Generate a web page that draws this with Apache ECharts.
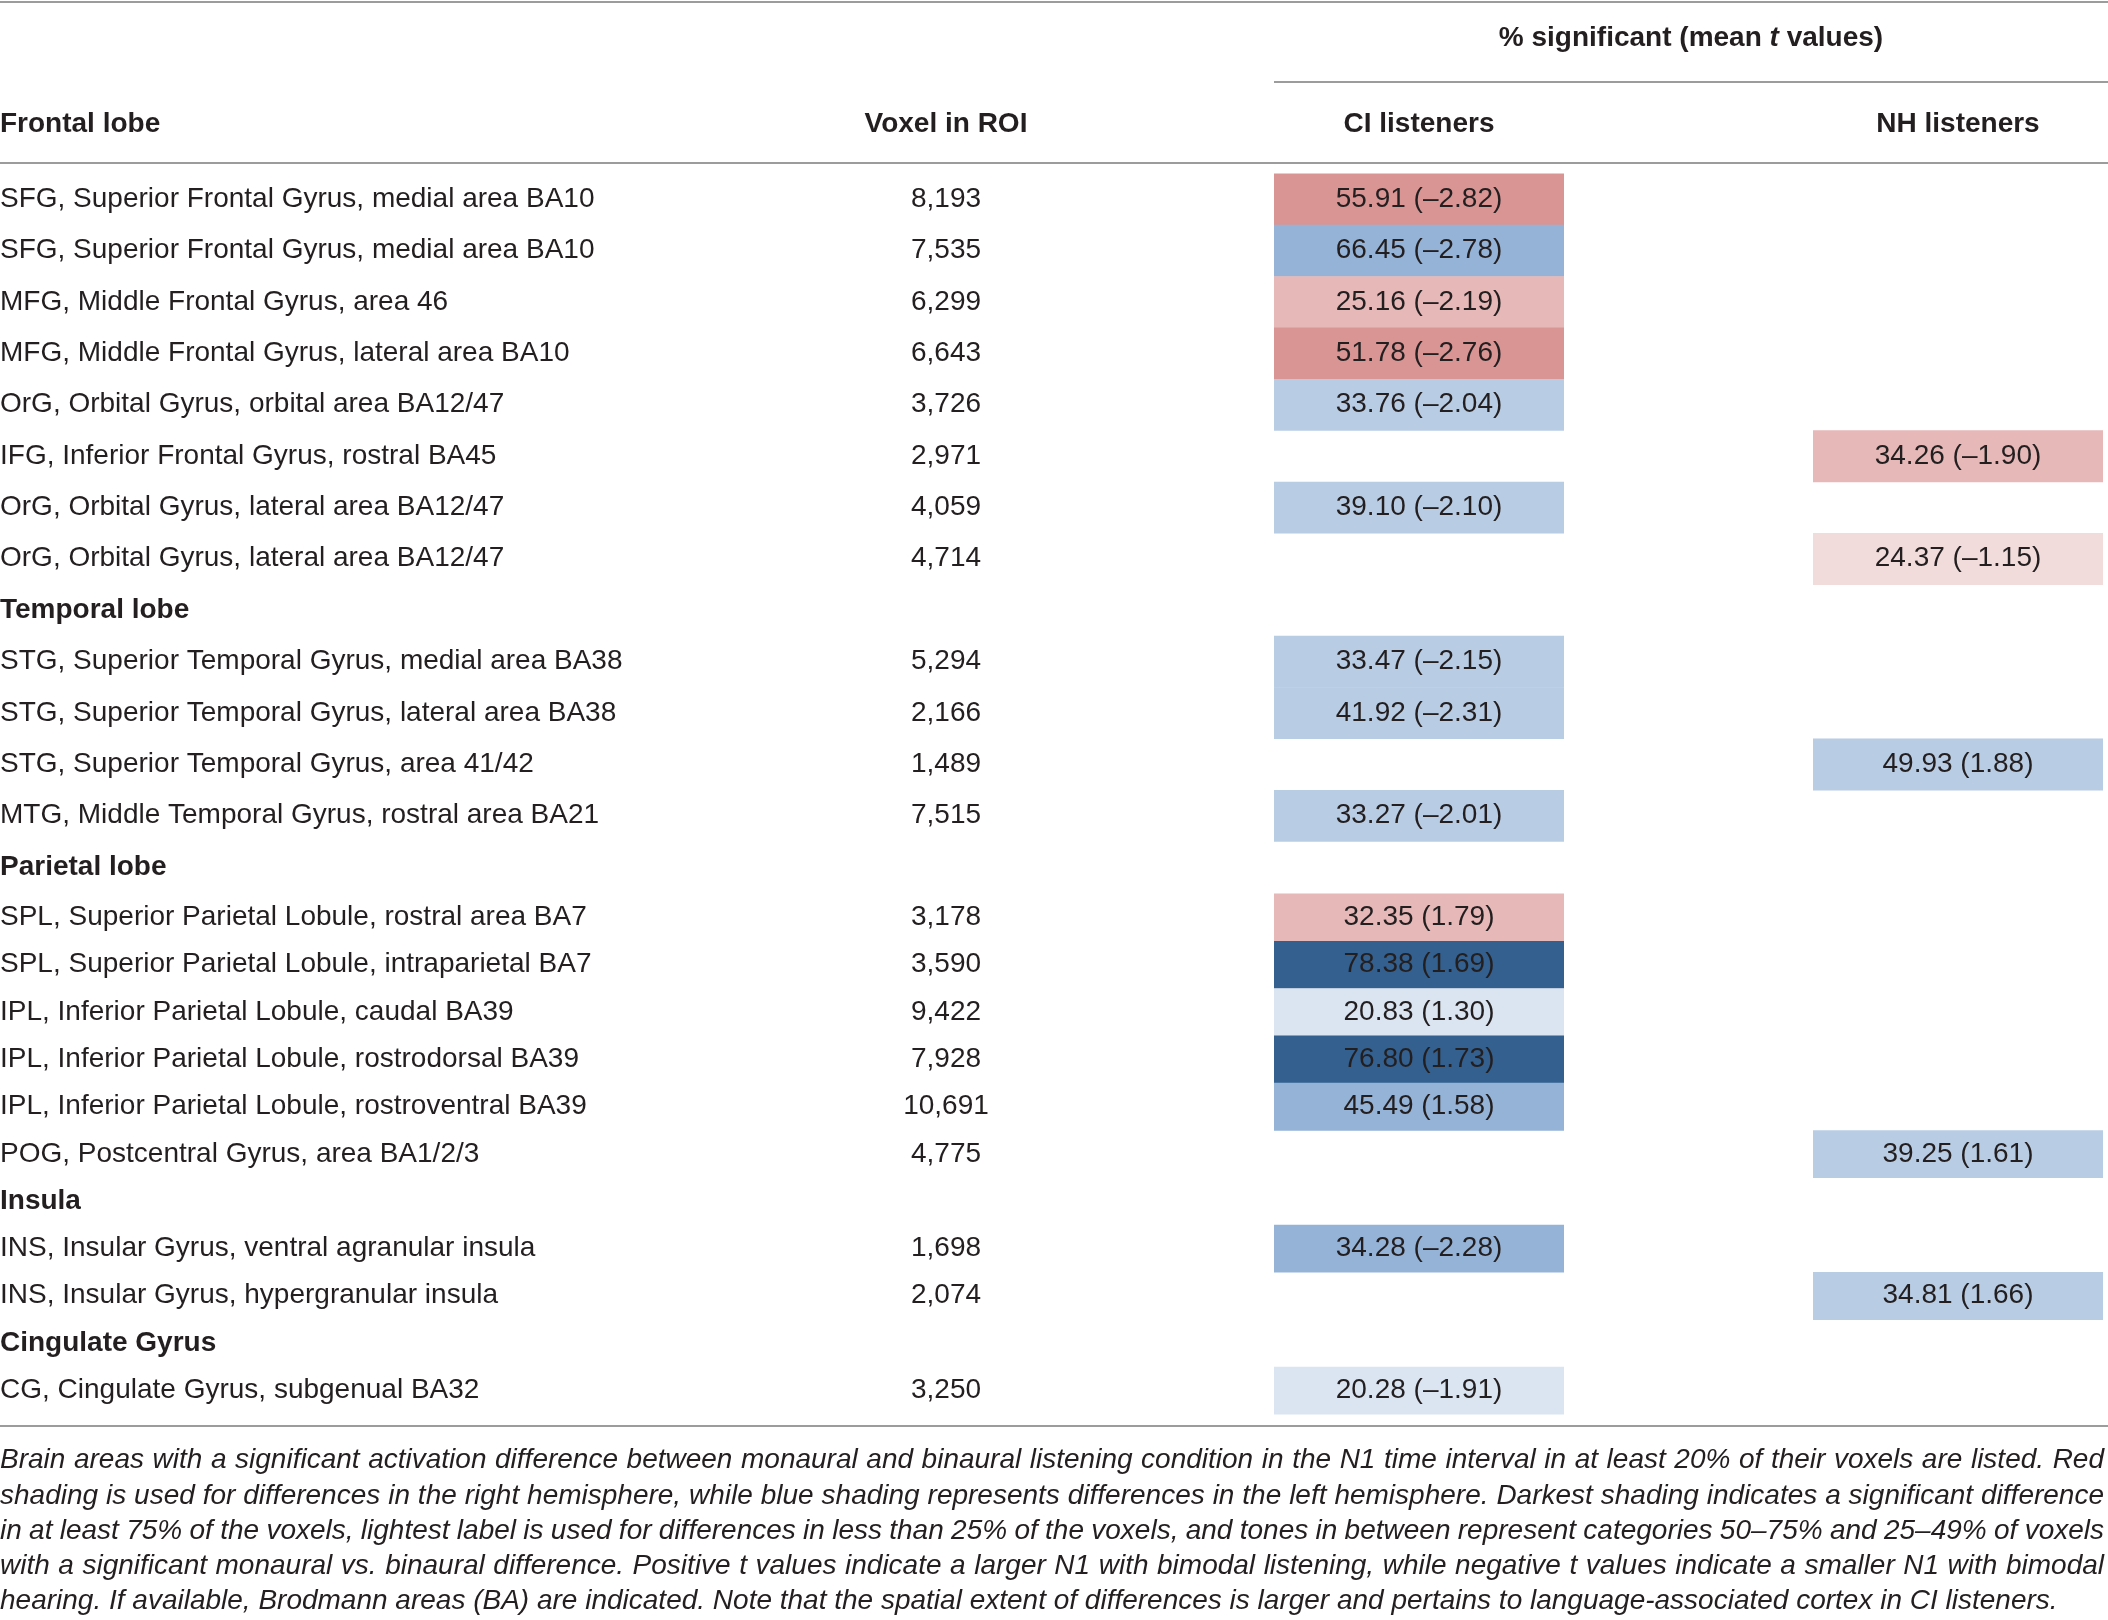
<!DOCTYPE html>
<html>
<head>
<meta charset="utf-8">
<script src="https://cdn.jsdelivr.net/npm/echarts/dist/echarts.min.js"></script>
<style>
html, body { margin: 0; padding: 0; background: #fff; }
#main { width: 2108px; height: 1620px; }
</style>
</head>
<body>
<div id="main"></div>
<script>
// rows of the table (section headings have no voxel count)
var regions = [
	'SFG, Superior Frontal Gyrus, medial area BA10',
	'SFG, Superior Frontal Gyrus, medial area BA10',
	'MFG, Middle Frontal Gyrus, area 46',
	'MFG, Middle Frontal Gyrus, lateral area BA10',
	'OrG, Orbital Gyrus, orbital area BA12/47',
	'IFG, Inferior Frontal Gyrus, rostral BA45',
	'OrG, Orbital Gyrus, lateral area BA12/47',
	'OrG, Orbital Gyrus, lateral area BA12/47',
	'Temporal lobe',
	'STG, Superior Temporal Gyrus, medial area BA38',
	'STG, Superior Temporal Gyrus, lateral area BA38',
	'STG, Superior Temporal Gyrus, area 41/42',
	'MTG, Middle Temporal Gyrus, rostral area BA21',
	'Parietal lobe',
	'SPL, Superior Parietal Lobule, rostral area BA7',
	'SPL, Superior Parietal Lobule, intraparietal BA7',
	'IPL, Inferior Parietal Lobule, caudal BA39',
	'IPL, Inferior Parietal Lobule, rostrodorsal BA39',
	'IPL, Inferior Parietal Lobule, rostroventral BA39',
	'POG, Postcentral Gyrus, area BA1/2/3',
	'Insula',
	'INS, Insular Gyrus, ventral agranular insula',
	'INS, Insular Gyrus, hypergranular insula',
	'Cingulate Gyrus',
	'CG, Cingulate Gyrus, subgenual BA32'
];
var voxels = [8193, 7535, 6299, 6643, 3726, 2971, 4059, 4714, null,
	5294, 2166, 1489, 7515, null,
	3178, 3590, 9422, 7928, 10691, 4775, null,
	1698, 2074, null, 3250];

var ciPct = [55.91, 66.45, 25.16, 51.78, 33.76, null, 39.10, null, null,
	33.47, 41.92, null, 33.27, null,
	32.35, 78.38, 20.83, 76.80, 45.49, null, null,
	34.28, null, null, 20.28];
var ciT = [-2.82, -2.78, -2.19, -2.76, -2.04, null, -2.10, null, null,
	-2.15, -2.31, null, -2.01, null,
	1.79, 1.69, 1.30, 1.73, 1.58, null, null,
	-2.28, null, null, -1.91];
// R = right hemisphere, B = left hemisphere; 0 lightest .. 3 darkest
var ciShade = ['R2', 'B2', 'R1', 'R2', 'B1', null, 'B1', null, null,
	'B1', 'B1', null, 'B1', null,
	'R1', 'B3', 'B0', 'B3', 'B2', null, null,
	'B2', null, null, 'B0'];

var nhPct = [null, null, null, null, null, 34.26, null, 24.37, null,
	null, null, 49.93, null, null,
	null, null, null, null, null, 39.25, null,
	null, 34.81, null, null];
var nhT = [null, null, null, null, null, -1.90, null, -1.15, null,
	null, null, 1.88, null, null,
	null, null, null, null, null, 1.61, null,
	null, 1.66, null, null];
var nhShade = [null, null, null, null, null, 'R1', null, 'R0', null,
	null, null, 'B1', null, null,
	null, null, null, null, null, 'B1', null,
	null, 'B1', null, null];

var columnHeaders = ['Voxel in ROI', 'CI listeners', 'NH listeners'];
var firstHeading = 'Frontal lobe';

var captionLines = [
	'Brain areas with a significant activation difference between monaural and binaural listening condition in the N1 time interval in at least 20% of their voxels are listed. Red',
	'shading is used for differences in the right hemisphere, while blue shading represents differences in the left hemisphere. Darkest shading indicates a significant difference',
	'in at least 75% of the voxels, lightest label is used for differences in less than 25% of the voxels, and tones in between represent categories 50\u201375% and 25\u201349% of voxels',
	'with a significant monaural vs. binaural difference. Positive t values indicate a larger N1 with bimodal listening, while negative t values indicate a smaller N1 with bimodal',
	'hearing. If available, Brodmann areas (BA) are indicated. Note that the spatial extent of differences is larger and pertains to language-associated cortex in CI listeners.'
];

var shadeColors = {
	R0: '#f2dcdb', R1: '#e6b8b7', R2: '#d99594',
	B0: '#dbe5f1', B1: '#b8cce4', B2: '#95b3d7', B3: '#33608f'
};
var TEXT = '#231f20';
var RULE = '#9c9c9c';
var FAMILY = '"Liberation Sans", Arial, sans-serif';

// two row blocks (the lower block has slightly tighter rows)
var rowBlocks = [
	{ from: 0, to: 14, top: 173.4, height: 719.3 },
	{ from: 14, to: 25, top: 893.6, height: 520.4 }
];
var columns = [
	{ left: 850, width: 192 },
	{ left: 1274, width: 290 },
	{ left: 1813, width: 290 }
];

function fmtCell(p, t) {
	var ts = (t < 0 ? '\u2013' : '') + Math.abs(t).toFixed(2);
	return p.toFixed(2) + ' (' + ts + ')';
}

function voxelRenderer(from) {
	return function (params, api) {
		var row = from + api.value(1);
		var c = api.coord([api.value(0), api.value(1)]);
		return {
			type: 'text', x: c[0], y: c[1],
			style: {
				text: voxels[row].toLocaleString('en-US'),
				align: 'center', verticalAlign: 'middle',
				fill: TEXT, font: '28px ' + FAMILY
			}
		};
	};
}

function cellRenderer(pct, tv, shade, from) {
	return function (params, api) {
		var row = from + api.value(1);
		var c = api.coord([api.value(0), api.value(1)]);
		var s = api.size([1, 1]);
		return {
			type: 'group',
			children: [{
				type: 'rect',
				shape: { x: c[0] - s[0] / 2, y: c[1] - s[1] / 2, width: s[0], height: s[1] + 0.5 },
				style: { fill: shadeColors[shade[row]] }
			}, {
				type: 'text', x: c[0], y: c[1],
				style: {
					text: fmtCell(pct[row], tv[row]),
					align: 'center', verticalAlign: 'middle',
					fill: TEXT, font: '28px ' + FAMILY
				}
			}]
		};
	};
}

var grids = [], xAxes = [], yAxes = [], series = [];
rowBlocks.forEach(function (blk, bi) {
	columns.forEach(function (col, ci) {
		var idx = grids.length;
		grids.push({
			left: col.left, width: col.width, top: blk.top, height: blk.height,
			containLabel: false, outerBoundsMode: 'none'
		});
		xAxes.push({
			type: 'category', gridIndex: idx, position: 'top',
			data: [columnHeaders[ci]],
			axisLine: { show: false }, axisTick: { show: false }, splitLine: { show: false },
			axisLabel: {
				show: bi === 0, interval: 0, margin: 48.7, verticalAlign: 'middle',
				color: TEXT, fontFamily: FAMILY, fontSize: 28, fontWeight: 'bold'
			}
		});
		var from = blk.from;
		yAxes.push({
			type: 'category', gridIndex: idx, inverse: true,
			data: regions.slice(blk.from, blk.to),
			axisLine: { show: false }, axisTick: { show: false }, splitLine: { show: false },
			axisLabel: {
				show: ci === 0, interval: 0, align: 'left', margin: col.left,
				color: TEXT, fontFamily: FAMILY, fontSize: 28,
				formatter: function (v, i) {
					return voxels[from + i] == null ? '{h|' + v + '}' : v;
				},
				rich: { h: { fontWeight: 'bold', fontSize: 28, fontFamily: FAMILY, color: TEXT } }
			}
		});
		var rows = [];
		for (var r = blk.from; r < blk.to; r++) {
			var has = ci === 0 ? voxels[r] != null : (ci === 1 ? ciPct[r] != null : nhPct[r] != null);
			if (has) rows.push([0, r - blk.from]);
		}
		series.push({
			type: 'custom', xAxisIndex: idx, yAxisIndex: idx,
			silent: true, animation: false,
			renderItem: ci === 0 ? voxelRenderer(blk.from)
				: (ci === 1 ? cellRenderer(ciPct, ciT, ciShade, blk.from)
					: cellRenderer(nhPct, nhT, nhShade, blk.from)),
			data: rows
		});
	});
});

function rule(x1, x2, y) {
	return { type: 'line', silent: true, shape: { x1: x1, y1: y, x2: x2, y2: y }, style: { stroke: RULE, lineWidth: 2 } };
}

// caption, set justified like the printed table note
function captionGraphics() {
	var ctx = document.createElement('canvas').getContext('2d');
	var width = 2104, minGap = 5;
	var out = [];
	captionLines.forEach(function (line, i) {
		var y = 1460.7 + i * 35.2;
		var size = 28;
		var font = 'italic ' + size + 'px ' + FAMILY;
		ctx.font = font;
		var words = line.split(' ');
		var widths = words.map(function (w) { return ctx.measureText(w).width; });
		var total = widths.reduce(function (a, b) { return a + b; }, 0);
		if (total + minGap * (words.length - 1) > width) {
			size = size * (width - minGap * (words.length - 1)) / total;
			font = 'italic ' + size.toFixed(2) + 'px ' + FAMILY;
			ctx.font = font;
			widths = words.map(function (w) { return ctx.measureText(w).width; });
			total = widths.reduce(function (a, b) { return a + b; }, 0);
		}
		var last = i === captionLines.length - 1;
		var gap = last ? ctx.measureText(' ').width : (width - total) / (words.length - 1);
		var x = 0;
		words.forEach(function (w, k) {
			out.push({ type: 'text', x: x, y: y, silent: true,
				style: { text: w, font: font, fill: TEXT, align: 'left', verticalAlign: 'middle' } });
			x += widths[k] + gap;
		});
	});
	return out;
}

var myChart = echarts.init(document.getElementById('main'));
var option = {
	backgroundColor: '#fff',
	animation: false,
	grid: grids,
	xAxis: xAxes,
	yAxis: yAxes,
	series: series,
	graphic: [
		rule(0, 2108, 2),
		rule(1274, 2108, 82),
		rule(0, 2108, 163),
		rule(0, 2108, 1426),
		{
			type: 'text', x: 1691, y: 38.7, silent: true,
			style: {
				text: '{a|% significant (mean }{b|t}{a| values)}',
				align: 'center', verticalAlign: 'middle',
				rich: {
					a: { fontFamily: FAMILY, fontSize: 28, fontWeight: 'bold', fill: TEXT, color: TEXT },
					b: { fontFamily: FAMILY, fontSize: 28, fontWeight: 'bold', fontStyle: 'italic', fill: TEXT, color: TEXT }
				}
			}
		},
		{
			type: 'text', x: 0, y: 124.7, silent: true,
			style: { text: firstHeading, font: 'bold 28px ' + FAMILY, fill: TEXT, align: 'left', verticalAlign: 'middle' }
		}
	].concat(captionGraphics())
};
myChart.setOption(option);
</script>
</body>
</html>
